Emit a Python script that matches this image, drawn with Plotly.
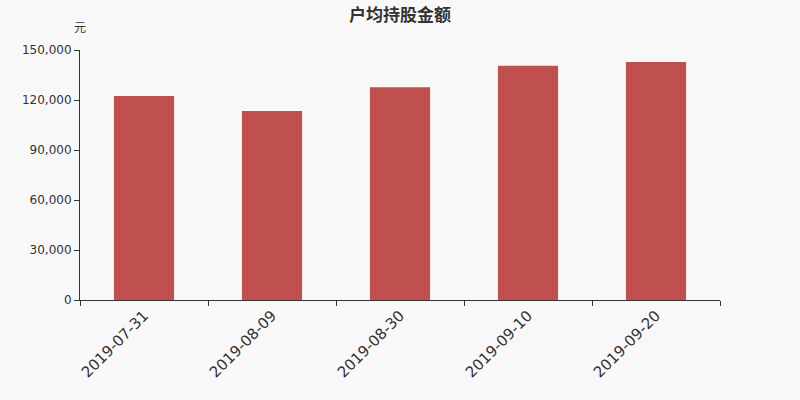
import plotly.graph_objects as go

dates = ['2019-07-31', '2019-08-09', '2019-08-30', '2019-09-10', '2019-09-20']
avg_holding = [122400, 113400, 127600, 140600, 142800]
y_ticks = [0, 30000, 60000, 90000, 120000, 150000]
y_tick_text = ['0', '30,000', '60,000', '90,000', '120,000', '150,000']

font_family = 'DejaVu Sans, Noto Sans CJK SC, sans-serif'

fig = go.Figure()
fig.add_trace(go.Bar(
    x=dates, y=avg_holding,
    marker=dict(color='#c0504d', line=dict(width=0)),
    hoverinfo='x+y',
))

fig.update_layout(
    width=800, height=400,
    margin=dict(l=80, r=80, t=50, b=100),
    paper_bgcolor='#f8f8f8',
    plot_bgcolor='#f8f8f8',
    bargap=0.53,
    showlegend=False,
    font=dict(family=font_family, color='#333333'),
    title=dict(text='<b>户均持股金额</b>', x=0.5, xanchor='center',
               y=0.978, yanchor='top',
               font=dict(size=17, color='#333333', family='Noto Sans CJK SC, sans-serif')),
    annotations=[dict(text='元', xref='paper', yref='paper', x=0, y=1.05,
                      xanchor='center', yanchor='bottom', showarrow=False,
                      font=dict(size=12, color='#333333',
                                family='Noto Sans CJK SC, sans-serif'))],
)

fig.update_xaxes(
    type='category',
    showline=True, linecolor='#333333', linewidth=1,
    ticks='outside', tickson='boundaries', ticklen=5, tickcolor='#333333',
    tickangle=-45, tickfont=dict(size=15, color='#333333'),
    showgrid=False,
)
fig.update_yaxes(
    range=[0, 150000],
    tickvals=y_ticks, ticktext=y_tick_text,
    showline=True, linecolor='#333333', linewidth=1,
    ticks='outside', ticklen=5, tickcolor='#333333',
    tickfont=dict(size=12, color='#333333'),
    showgrid=False, zeroline=False,
)

# drop the page's default body margin so the figure sits at the window corner
fig.write_html('out.html', config={'displayModeBar': False},
               post_script="document.body.style.margin='0';")
